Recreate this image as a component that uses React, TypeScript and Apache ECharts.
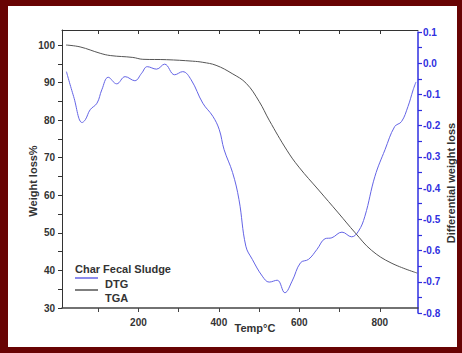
import React, { useEffect, useRef } from "react";
import * as echarts from "echarts";

const tgaTemp = [20, 55, 105, 130, 186, 211, 270, 335, 360, 393, 433, 468, 500, 525, 569, 599, 648, 697, 739, 779, 828, 893];
const tgaWt = [100, 99.5, 97.8, 97.2, 96.7, 96.2, 96.1, 95.7, 95.4, 94.6, 92.4, 89.8, 85, 80, 72, 67.5, 61.4, 55.3, 50, 45.4, 42, 39.3];

const dtgTemp = [21, 39, 60, 68, 80, 97, 109, 125, 146, 167, 191, 208, 222, 245, 265, 290, 310, 331, 360, 385, 401, 413, 434, 450, 467, 483, 508, 525, 545, 564, 582, 603, 623, 644, 664, 681, 706, 730, 747, 763, 788, 813, 837, 854, 870, 883, 890];
const dtgVal = [-0.027, -0.107, -0.19, -0.181, -0.149, -0.128, -0.085, -0.045, -0.066, -0.043, -0.056, -0.032, -0.011, -0.019, -0.003, -0.037, -0.027, -0.053, -0.128, -0.17, -0.213, -0.277, -0.35, -0.437, -0.586, -0.628, -0.682, -0.701, -0.695, -0.735, -0.698, -0.639, -0.628, -0.596, -0.562, -0.559, -0.541, -0.556, -0.538, -0.49, -0.362, -0.277, -0.203, -0.187, -0.139, -0.085, -0.06];

const xLabels = [200, 400, 600, 800];
const xTicks = [100, 200, 300, 400, 500, 600, 700, 800];

const FONT = "'Liberation Sans', Arial, sans-serif";
const TXT = "#333333";
const BLUE = "#2f2fe0";
const DTG_COLOR = "#6464e6";
const TGA_COLOR = "#555555";

export default function App() {
  const ref = useRef<HTMLDivElement>(null);
  useEffect(() => {
    if (!ref.current) return;
    const chart = echarts.init(ref.current, null, { renderer: "svg" });
    const xBase = { type: "value", min: 10, max: 895, splitLine: { show: false } };
    chart.setOption({
      animation: false,
      grid: [
        { left: 62, right: 44, top: 30, bottom: 45 },
        { left: 62, right: 44, top: 32, bottom: 40 },
      ],
      xAxis: [
        {
          ...xBase,
          gridIndex: 0,
          position: "bottom",
          axisLine: { lineStyle: { color: "#444", width: 1.5 } },
          axisTick: { show: true, inside: false, length: 4, customValues: xTicks, lineStyle: { color: "#444" } },
          axisLabel: { customValues: xLabels, margin: 9, color: TXT, fontWeight: "bold", fontSize: 10, fontFamily: FONT },
        },
        {
          ...xBase,
          gridIndex: 0,
          position: "top",
          axisLine: { show: true, onZero: false, lineStyle: { color: "#333", width: 1 } },
          axisTick: { show: true, inside: true, length: 4, customValues: xTicks, lineStyle: { color: "#333" } },
          axisLabel: { show: false },
        },
        {
          ...xBase,
          gridIndex: 1,
          show: false,
        },
      ],
      yAxis: [
        {
          type: "value",
          gridIndex: 0,
          min: 30,
          max: 104,
          interval: 5,
          position: "left",
          splitLine: { show: false },
          axisLine: { show: true, lineStyle: { color: "#333", width: 1 } },
          axisTick: { show: true, length: 4, lineStyle: { color: "#333" } },
          axisLabel: {
            margin: 7,
            color: TXT,
            fontWeight: "bold",
            fontSize: 10,
            fontFamily: FONT,
            showMaxLabel: false,
            formatter: (v: number) => (v % 10 === 0 && v <= 100 ? String(v) : ""),
          },
        },
        {
          type: "value",
          gridIndex: 1,
          min: -0.8,
          max: 0.1,
          interval: 0.05,
          position: "right",
          splitLine: { show: false },
          axisLine: { show: true, onZero: false, lineStyle: { color: BLUE, width: 1.5 } },
          axisTick: { show: true, length: 4, lineStyle: { color: BLUE, width: 1.2 } },
          axisLabel: {
            margin: 5,
            color: BLUE,
            fontWeight: "bold",
            fontSize: 10,
            fontFamily: FONT,
            formatter: (v: number) => {
              const r = Math.round(v * 100);
              if (r % 10 !== 0) return "";
              if (r === 0) return "0.0";
              return (r / 100).toFixed(1);
            },
          },
        },
      ],
      series: [
        {
          name: "TGA",
          type: "line",
          xAxisIndex: 0,
          yAxisIndex: 0,
          data: tgaTemp.map((t, i) => [t, tgaWt[i]]),
          showSymbol: false,
          smooth: 0.4,
          lineStyle: { color: TGA_COLOR, width: 1 },
          z: 3,
        },
        {
          name: "DTG",
          type: "line",
          xAxisIndex: 2,
          yAxisIndex: 1,
          data: dtgTemp.map((t, i) => [t, dtgVal[i]]),
          showSymbol: false,
          smooth: 0.4,
          lineStyle: { color: DTG_COLOR, width: 1 },
          z: 2,
        },
      ],
      graphic: [
        {
          type: "text",
          x: 33,
          y: 181,
          rotation: Math.PI / 2,
          style: { text: "Weight loss%", fill: TXT, font: `bold 11px ${FONT}`, align: "center", verticalAlign: "middle" },
        },
        {
          type: "text",
          x: 451,
          y: 183,
          rotation: Math.PI / 2,
          style: { text: "Differential weight loss", fill: TXT, font: `bold 11px ${FONT}`, align: "center", verticalAlign: "middle" },
        },
        {
          type: "text",
          x: 255,
          y: 328,
          style: { text: "Temp°C", fill: TXT, font: `bold 11px ${FONT}`, align: "center", verticalAlign: "middle" },
        },
        {
          type: "text",
          x: 75,
          y: 269,
          style: { text: "Char Fecal Sludge", fill: TXT, font: `bold 11px ${FONT}`, align: "left", verticalAlign: "middle" },
        },
        { type: "line", shape: { x1: 75, y1: 278, x2: 98, y2: 278 }, style: { stroke: DTG_COLOR, lineWidth: 1.5 } },
        {
          type: "text",
          x: 105,
          y: 284,
          style: { text: "DTG", fill: TXT, font: `bold 11px ${FONT}`, align: "left", verticalAlign: "middle" },
        },
        { type: "line", shape: { x1: 75, y1: 290, x2: 98, y2: 290 }, style: { stroke: TGA_COLOR, lineWidth: 1.5 } },
        {
          type: "text",
          x: 105,
          y: 298,
          style: { text: "TGA", fill: TXT, font: `bold 11px ${FONT}`, align: "left", verticalAlign: "middle" },
        },
      ],
    });
    return () => chart.dispose();
  }, []);

  return (
    <div style={{ position: "fixed", left: 0, top: 0, width: 462, height: 353, background: "#680404" }}>
      <div style={{ position: "absolute", left: 8, top: 6, width: 449, height: 341, background: "#ffffff" }} />
      <div ref={ref} style={{ position: "absolute", left: 0, top: 0, width: 462, height: 353 }} />
    </div>
  );
}
